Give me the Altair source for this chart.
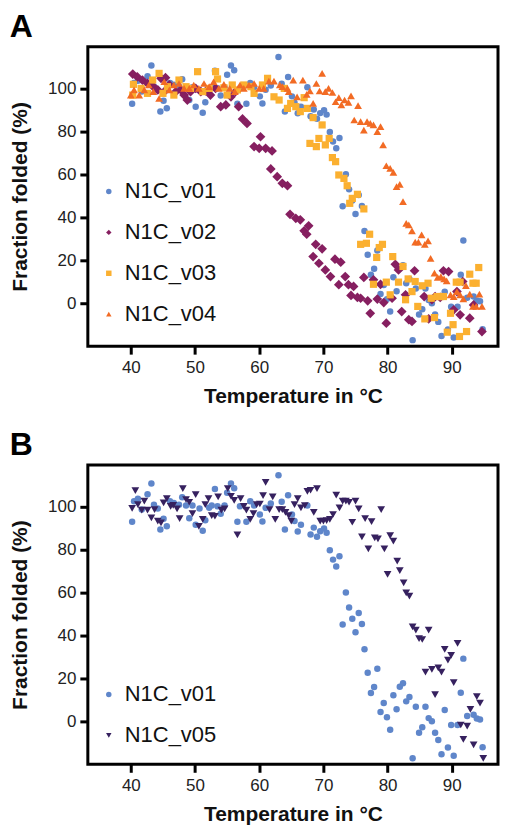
import altair as alt
import pandas as pd

# ---- data ----
v01_temp = [40.2,40.5,41.1,41.7,42.6,43.2,43.6,44.2,44.6,45.1,45.6,46.1,46.7,47.5,48.0,48.6,49.1,49.6,50.1,50.7,
            51.2,51.6,52.2,52.6,53.1,53.5,54.0,54.6,55.0,55.6,56.1,56.6,57.0,58.0,58.6,59.2,60.1,60.5,61.0,61.8,
            63.0,63.5,64.0,64.5,65.1,65.5,66.0,66.5,67.5,68.0,68.5,69.0,69.5,70.1,70.5,71.0,71.5,72.0,72.5,73.0,
            73.5,74.0,74.5,75.0,75.5,76.0,76.4,76.9,77.4,77.9,78.4,78.9,79.4,79.9,80.4,80.9,81.4,81.9,82.4,82.9,
            83.4,83.9,84.4,84.9,85.4,85.9,86.4,86.9,87.4,87.9,88.4,88.9,89.4,89.9,90.3,90.9,91.4,91.8,92.4,93.4,
            93.9,94.4,94.8]
v01_frac = [92.9,102.5,103.6,98.6,105.7,110.7,100.9,99.1,89.3,94.3,90.8,102.5,101.7,100.9,104.3,100.5,94.6,100.5,91.5,99.1,
            88.7,93.6,99.5,100.5,108.2,100.1,96.7,100.5,106.4,110.7,108.5,92.9,100.1,92.9,102.5,100.5,96.3,93.0,99.4,101.4,
            114.6,102.2,89.3,105.3,96.3,93.3,88.4,91.5,100.5,87.0,90.2,85.9,88.5,89.8,87.8,79.7,75.3,72.1,76.9,45.1,
            60.0,53.0,47.8,41.5,50.4,45.3,33.6,22.6,13.2,16.0,24.5,4.3,8.5,1.9,-3.9,12.1,5.6,16.1,17.7,9.3,
            11.3,-17.2,6.8,-5.3,-2.8,6.8,1.5,0.0,-5.3,-8.7,-15.3,5.3,-12.2,-1.7,-16.0,-1.7,13.3,29.2,2.5,3.1,
            1.3,0.9,-12.1]

v02_temp = [40.3,41.0,41.8,42.6,43.4,44.2,44.7,45.2,45.4,46.0,47.0,47.8,48.3,48.8,49.3,50.1,50.9,51.7,52.4,53.2,
            54.0,54.8,55.6,56.3,56.8,57.4,58.1,59.2,60.0,60.2,61.0,61.8,62.0,62.8,63.6,64.4,64.8,65.7,66.4,67.0,
            67.4,67.7,68.4,68.8,69.3,69.8,70.3,71.1,71.8,72.4,72.7,73.4,73.9,74.3,74.7,75.3,75.8,76.3,76.9,77.3,
            77.8,78.4,78.9,79.4,79.8,80.7,81.2,81.7,82.2,82.8,83.3,83.8,84.2,85.7,86.4,86.9,87.4,88.2,88.7,89.5,
            90.3,90.8,91.3,91.7,92.8,93.4,94.7]
v02_frac = [106.7,105.4,103.9,102.3,101.1,99.3,104.7,98.5,105.0,101.6,98.5,99.3,96.9,94.6,98.5,100.0,98.5,98.8,96.9,100.0,
            91.5,92.3,96.1,98.5,91.5,85.8,83.7,72.9,72.1,77.5,72.1,62.5,70.9,58.9,55.8,54.7,41.4,39.5,38.8,33.7,
            32.1,36.0,21.7,27.4,18.6,25.3,15.5,12.4,20.5,8.6,19.1,12.4,8.6,3.6,7.8,2.7,2.3,12.0,1.1,-4.7,
            10.9,1.9,8.8,0.3,-9.3,2.3,18.1,15.5,-3.9,3.9,-7.7,-8.5,15.1,3.1,-7.3,1.6,3.1,2.7,15.1,14.7,
            -3.1,5.4,-5.4,10.1,-7.0,-0.8,-13.2]

v03_temp = [40.3,40.4,41.6,42.6,43.4,44.4,45.0,45.7,46.7,47.5,48.6,49.3,50.4,51.2,52.2,53.2,53.5,54.5,55.0,55.8,
            56.6,57.6,58.7,59.2,60.5,61.3,62.3,63.1,63.9,64.4,64.9,65.7,66.4,67.0,67.5,67.9,68.4,68.9,69.3,69.8,
            70.3,70.9,71.4,71.9,72.4,73.2,73.7,74.1,74.5,75.3,75.8,76.3,76.7,77.2,77.8,78.3,78.7,79.2,79.8,80.4,
            80.8,81.7,82.4,82.8,83.2,83.8,84.3,84.7,85.4,85.8,86.3,86.8,87.3,87.7,88.2,88.7,89.3,89.8,90.2,90.7,
            91.2,91.3,92.3,92.8,93.3,93.8,94.2]
v03_frac = [96.9,101.9,100.0,97.7,103.9,107.0,97.7,100.8,96.9,103.9,100.8,100.0,107.8,98.5,100.0,107.8,104.4,100.3,96.9,101.6,
            99.3,101.6,100.8,97.7,101.6,104.7,96.1,94.6,100.0,90.7,93.0,91.5,89.2,95.7,90.7,74.4,86.4,72.9,76.7,83.0,
            73.7,76.7,67.8,65.9,59.7,58.1,54.7,46.5,48.8,50.7,27.4,43.9,27.9,32.1,8.8,21.3,25.9,27.4,9.8,3.9,
            21.7,9.8,17.1,1.6,11.3,5.4,10.1,-1.5,8.1,-7.3,9.3,2.3,-6.7,3.1,3.1,3.1,-13.5,-4.7,-10.0,9.8,
            -15.5,9.8,-13.2,13.5,9.3,9.3,16.6]

v04_temp = [40.0,40.5,41.3,42.1,42.8,43.5,44.4,45.2,46.0,46.7,47.5,48.3,49.1,49.8,50.6,51.4,52.2,52.9,53.7,54.5,
            55.4,56.2,57.0,57.6,58.4,59.2,60.0,60.7,61.5,62.3,63.2,63.6,64.4,64.6,65.3,65.9,66.8,67.4,67.9,68.4,
            68.9,69.4,69.8,70.3,70.8,71.4,71.9,72.4,72.8,73.3,73.9,74.3,74.8,75.4,75.8,76.3,76.8,77.3,77.8,78.4,
            78.9,79.3,79.8,80.4,80.9,81.4,81.9,82.4,82.9,83.3,83.8,84.3,84.8,85.3,85.8,86.3,86.7,87.3,87.8,88.3,
            88.8,89.2,89.8,90.3,90.8,91.3,91.8,92.2,92.8,93.3,93.8,94.3,94.7]
v04_frac = [96.9,99.3,96.9,99.3,101.6,98.5,95.3,103.1,99.3,101.6,102.3,100.0,100.0,101.6,100.0,102.3,100.8,103.1,100.0,101.9,
            100.0,98.5,101.6,100.0,101.6,102.3,100.0,100.0,103.4,103.4,101.6,100.8,100.0,98.5,103.9,96.1,103.9,97.2,98.8,93.0,
            102.3,98.8,107.0,98.5,100.0,98.1,93.8,95.7,92.3,94.6,93.5,96.5,85.3,92.0,84.5,80.6,84.5,83.7,83.0,79.9,
            82.2,73.7,64.0,62.8,60.9,54.3,55.3,47.3,37.2,36.5,33.7,28.4,28.4,31.8,27.4,29.0,20.9,14.0,12.0,12.4,
            11.3,10.4,3.9,3.1,5.4,3.9,2.0,8.2,4.2,-1.5,-1.5,4.2,-1.5]

v05_temp = [40.2,40.7,41.1,41.7,42.1,42.6,43.2,43.7,44.2,44.7,45.1,45.6,46.2,46.6,47.2,47.6,48.1,48.6,49.1,49.6,
            50.1,50.6,51.2,51.6,52.1,52.6,53.1,53.6,54.1,54.6,55.1,55.6,56.1,56.6,57.1,57.6,58.0,58.6,59.1,59.6,
            60.1,60.6,61.0,61.6,62.1,62.5,63.1,63.6,64.1,64.6,65.0,65.5,66.0,66.5,67.1,67.5,68.0,68.5,69.0,69.5,
            70.0,70.5,71.0,71.5,72.0,72.5,73.0,73.5,74.0,74.5,75.0,75.5,76.0,76.5,77.0,77.5,78.0,78.5,79.0,79.5,
            80.0,80.4,80.9,81.5,81.9,82.5,82.9,83.4,83.9,84.4,84.9,85.4,85.9,86.4,86.9,87.4,87.9,88.4,88.9,89.4,
            89.9,90.3,90.9,91.4,91.8,92.4,92.9,93.4,93.9,94.4,94.9]
v05_frac = [99.2,107.4,100.9,98.3,102.5,98.3,94.7,98.6,93.2,92.4,101.7,103.7,100.1,100.6,98.9,94.4,108.4,103.3,102.0,96.7,
            105.6,90.8,94.0,100.9,103.7,95.8,95.5,104.5,98.3,98.9,108.4,104.8,102.9,86.8,103.7,100.1,98.3,94.0,96.7,100.9,
            101.2,105.1,111.3,98.6,104.5,94.0,98.6,98.6,97.3,95.8,93.2,100.9,103.7,99.4,100.5,107.1,107.6,97.3,108.4,93.2,
            93.2,93.5,94.0,96.3,105.3,99.4,102.5,102.5,102.0,92.7,102.5,98.9,85.9,94.4,80.3,93.0,85.4,85.0,98.6,80.3,
            68.4,86.5,83.9,74.6,70.2,64.5,59.8,58.3,44.0,42.5,38.5,38.1,22.9,42.5,24.2,12.4,24.9,22.9,33.5,28.5,
            30.7,18.0,36.3,-1.7,-8.4,-2.2,5.6,-11.0,11.5,8.5,-17.2]

x_ticks = [40, 50, 60, 70, 80, 90]
y_ticks = [0, 20, 40, 60, 80, 100]

series_a = ["N1C_v01", "N1C_v02", "N1C_v03", "N1C_v04"]
colors_a = ["#5F86CA", "#861F60", "#FBB030", "#F26B24"]
shapes_a = ["circle", "diamond", "square", "triangle-up"]
sizes_a = [42, 95, 52, 60]

series_b = ["N1C_v01", "N1C_v05"]
colors_b = ["#5F86CA", "#36215F"]
shapes_b = ["circle", "triangle-down"]
sizes_b = [42, 60]

FONT = "Liberation Sans"


def panel(letter, names, temps, fracs, colors, shapes, sizes, legend_y):
    x = alt.X("temp:Q", title="Temperature in °C",
              scale=alt.Scale(domain=[33.3, 97.2], nice=False, zero=False),
              axis=alt.Axis(values=x_ticks, grid=False, domain=False, tickSize=8, tickWidth=3,
                            tickColor="black", labelFontSize=17, labelColor="#222222",
                            labelPadding=5, titleFontSize=21, titleFontWeight="bold",
                            titlePadding=10, titleColor="#111111", labelFont=FONT, titleFont=FONT))
    y = alt.Y("frac:Q", title="Fraction folded (%)",
              scale=alt.Scale(domain=[-20, 119.4], nice=False, zero=False),
              axis=alt.Axis(values=y_ticks, grid=False, domain=False, tickSize=8, tickWidth=3,
                            tickColor="black", labelFontSize=17, labelColor="#222222",
                            labelPadding=4, titleFontSize=21, titleFontWeight="bold",
                            titlePadding=17, titleColor="#111111", labelFont=FONT, titleFont=FONT))
    legend = alt.Legend(title=None, orient="none", legendX=10, legendY=legend_y, labelFontSize=22,
                        labelColor="#111111", labelFont=FONT, symbolSize=30, rowPadding=19,
                        labelOffset=5, symbolStrokeWidth=0)
    color = alt.Color("series:N", scale=alt.Scale(domain=names, range=colors), legend=legend)
    shape = alt.Shape("series:N", scale=alt.Scale(domain=names, range=shapes), legend=legend)
    layers = []
    for n, t, f, s in zip(names, temps, fracs, sizes):
        d = pd.DataFrame({"series": n, "temp": t, "frac": f})
        layers.append(
            alt.Chart(d).mark_point(filled=True, opacity=1, size=s).encode(
                x=x, y=y, color=color, shape=shape)
        )
    return alt.layer(*layers).properties(
        width=411, height=300,
        title=alt.TitleParams(letter, anchor="start", frame="bounds", fontSize=32,
                              fontWeight="bold", font=FONT, color="black", offset=3),
    )


chart = alt.vconcat(
    panel("A", series_a, [v01_temp, v02_temp, v03_temp, v04_temp],
          [v01_frac, v02_frac, v03_frac, v04_frac], colors_a, shapes_a, sizes_a, 134),
    panel("B", series_b, [v01_temp, v05_temp], [v01_frac, v05_frac],
          colors_b, shapes_b, sizes_b, 219),
    spacing=19,
    padding={"left": 0, "top": 0, "right": 0, "bottom": 0},
    background="white",
).resolve_scale(color="independent", shape="independent").configure_view(
    stroke="black", strokeWidth=3
)

chart.save("out.html", embed_options={"renderer": "svg", "actions": False})
